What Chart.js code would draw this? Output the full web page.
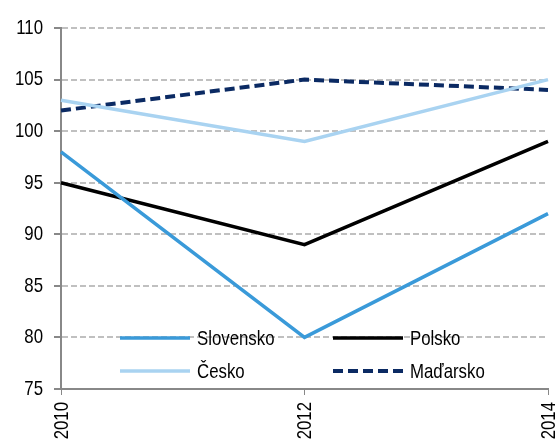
<!DOCTYPE html>
<html>
<head>
<meta charset="utf-8">
<script src="https://cdn.jsdelivr.net/npm/chart.js@4"></script>
<style>
  html, body { margin: 0; padding: 0; background: #fff; }
  #wrap { width: 557px; height: 442px; position: relative; }
</style>
</head>
<body>
<div id="wrap"><canvas id="c"></canvas></div>
<script>
// hodnoty odčítané z grafu
const years = ['2010', '2012', '2014'];
const slovensko = [98, 80, 92];
const polsko = [95, 89, 99];
const cesko = [103, 99, 105];
const madarsko = [102, 105, 104];

const FONT = "'Liberation Sans', Arial, sans-serif";
const NARROW = 0.8; // originál používa úzke písmo (Arial Narrow)

// legenda vo vnútri grafu, dva stĺpce
const innerLegend = {
  id: 'innerLegend',
  afterDatasetsDraw(chart) {
    const { ctx } = chart;
    const cols = [120, 333], rows = [338, 371];
    ctx.save();
    ctx.font = '21px ' + FONT;
    ctx.textBaseline = 'middle';
    chart.data.datasets.forEach((ds, i) => {
      const x = cols[i % 2], y = rows[Math.floor(i / 2)];
      ctx.strokeStyle = ds.borderColor;
      ctx.lineWidth = ds.borderWidth;
      ctx.setLineDash(ds.borderDash || []);
      ctx.beginPath();
      ctx.moveTo(x, y);
      ctx.lineTo(x + 70, y);
      ctx.stroke();
      ctx.setLineDash([]);
      ctx.fillStyle = '#000';
      ctx.save();
      ctx.translate(x + 77, y + 1);
      ctx.scale(NARROW, 1);
      ctx.fillText(ds.label, 0, 0);
      ctx.restore();
    });
    ctx.restore();
  },
};

// popisy osí zúžené, pozície berieme zo škál
const narrowTicks = {
  id: 'narrowTicks',
  afterDraw(chart) {
    const { ctx, scales: { x, y } } = chart;
    ctx.save();
    ctx.font = '21px ' + FONT;
    ctx.fillStyle = '#000';
    ctx.textBaseline = 'middle';
    ctx.textAlign = 'right';
    y.ticks.forEach((t, i) => {
      ctx.save();
      ctx.translate(y.left + 43, y.getPixelForTick(i));
      ctx.scale(NARROW, 1);
      ctx.fillText(t.label, 0, 0);
      ctx.restore();
    });
    x.ticks.forEach((t, i) => {
      ctx.save();
      ctx.translate(x.getPixelForTick(i), x.top + 13);
      ctx.rotate(-Math.PI / 2);
      ctx.scale(NARROW, 1);
      ctx.fillText(t.label, 0, 1);
      ctx.restore();
    });
    ctx.restore();
  },
};

new Chart(document.getElementById('c'), {
  type: 'line',
  data: {
    labels: years,
    datasets: [
      { label: 'Slovensko', data: slovensko, borderColor: '#3a9ad9', borderWidth: 3.5 },
      { label: 'Polsko', data: polsko, borderColor: '#000000', borderWidth: 3.5 },
      { label: 'Česko', data: cesko, borderColor: '#a9d3f1', borderWidth: 3.5 },
      { label: 'Maďarsko', data: madarsko, borderColor: '#0b2a63', borderWidth: 4, borderDash: [10, 5] },
    ],
  },
  options: {
    responsive: true, maintainAspectRatio: false, animation: false,
    layout: { padding: { top: 28, right: 9, left: 0, bottom: 0 } },
    elements: { point: { radius: 0 }, line: { tension: 0, fill: false, borderCapStyle: 'butt' } },
    plugins: { legend: { display: false }, tooltip: { enabled: false } },
    scales: {
      x: {
        offset: false,
        grid: { drawOnChartArea: false, drawTicks: true, tickLength: 6, color: '#888' },
        border: { color: '#888', width: 2 },
        ticks: { color: 'rgba(0,0,0,0)', font: { family: FONT, size: 2 }, minRotation: 90, maxRotation: 90, padding: 4 },
        afterFit: (s) => { s.height = 53; s.paddingLeft = 0; s.paddingRight = 0; },
      },
      y: {
        min: 75, max: 110,
        grid: { color: '#c0c0c0', lineWidth: 2, tickLength: 7, tickColor: '#888', tickBorderDash: [] },
        border: { color: '#888', width: 2, dash: [6, 3] },
        ticks: { stepSize: 5, color: 'rgba(0,0,0,0)', font: { family: FONT, size: 2 }, padding: 10 },
        afterFit: (s) => { s.width = 61; s.paddingTop = 0; s.paddingBottom = 0; },
      },
    },
  },
  plugins: [innerLegend, narrowTicks],
});
</script>
</body>
</html>
